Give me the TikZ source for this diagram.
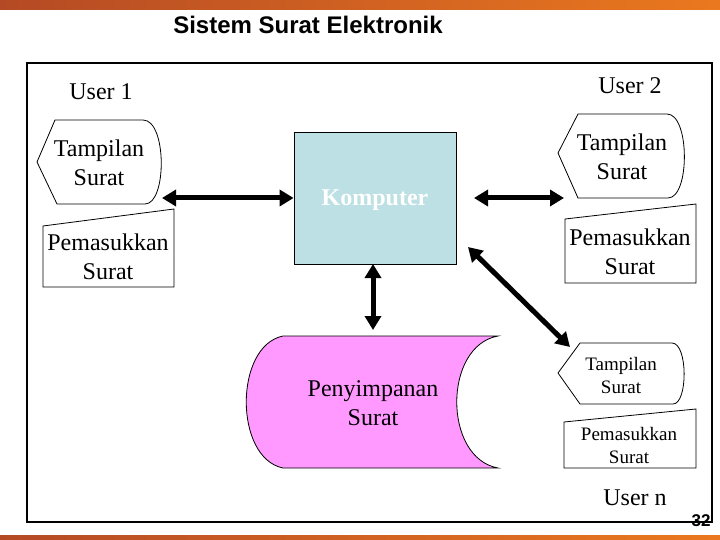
\documentclass[tikz,border=0pt]{standalone}
\usepackage{fontspec}
\setmainfont{Liberation Serif}
\setsansfont{Liberation Sans}
\usetikzlibrary{arrows.meta}
\definecolor{kompblue}{RGB}{189,224,228}
\definecolor{simpanpink}{RGB}{255,153,255}
\definecolor{bardark}{RGB}{150,48,40}
\definecolor{barorange}{RGB}{240,125,30}
\definecolor{barlight}{RGB}{245,200,150}
\pgfdeclarehorizontalshading{barshade}{100bp}{color(0bp)=(bardark); color(30bp)=(bardark!60!barorange); color(80bp)=(barorange); color(100bp)=(barlight)}

\begin{document}
\begin{tikzpicture}[x=1pt, y=-1pt,
    shapeline/.style={draw, line width=0.8pt},
    bigtext/.style={font=\fontsize{24}{29}\selectfont, align=center},
    smalltext/.style={font=\fontsize{19}{23}\selectfont, align=center},
    biarrow/.style={{Triangle[length=14pt,width=16pt]}-{Triangle[length=14pt,width=16pt]}, line width=5pt}]
    \useasboundingbox (0,0) rectangle (720,540);

    % bars and frame
    \fill[shading=barshade] (0,0) rectangle (720,10);
    \fill[shading=barshade] (0,535) rectangle (720,540);
    \draw[line width=1.5pt] (27,63) rectangle (712,522);
    \node[font=\fontsize{24}{27}\selectfont\sffamily\bfseries] (title) at (308,25) {Sistem Surat Elektronik};

    % user 1
    \node[bigtext] (user1) at (101,92) {User 1};
    \draw[shapeline] (37,162) -- (55,120) -- (143,120) .. controls (167,120) and (167,204) .. (145,204) -- (57,204) -- cycle;
    \node[bigtext] (tampil1) at (99,163) {Tampilan\\Surat};
    \draw[shapeline] (43,226) -- (174,209) -- (174,287) -- (43,287) -- cycle;
    \node[bigtext] (masuk1) at (108,257) {Pemasukkan\\Surat};

    % user 2
    \node[bigtext] (user2) at (630,86) {User 2};
    \draw[shapeline] (558,153) -- (578,114) -- (667,114) .. controls (690,114) and (690,198) .. (668,198) -- (578,198) -- cycle;
    \node[bigtext] (tampil2) at (622,157) {Tampilan\\Surat};
    \draw[shapeline] (565,219) -- (696,204) -- (696,283) -- (565,283) -- cycle;
    \node[bigtext] (masuk2) at (630,252) {Pemasukkan\\Surat};

    % user n
    \draw[shapeline] (558,373) -- (580,343) -- (672,343) .. controls (688,343) and (688,404) .. (673,404) -- (580,404) -- cycle;
    \node[smalltext] (tampiln) at (621,375) {Tampilan\\Surat};
    \draw[shapeline] (564,422) -- (696,409) -- (696,468) -- (564,468) -- cycle;
    \node[smalltext] (masukn) at (629,445) {Pemasukkan\\Surat};
    \node[bigtext] (usern) at (635,498) {User n};

    % komputer and storage
    \node[shapeline, fill=kompblue, minimum width=162pt, minimum height=132pt] (komp) at (375,198) {};
    \node[bigtext, text=white, font=\fontsize{24}{29}\selectfont\bfseries] (komptext) at (375,200) {Komputer};
    \draw[shapeline, fill=simpanpink] (283,336) -- (498,336) .. controls (443,346) and (443,458) .. (498,468)
        -- (283,468) .. controls (234,458) and (234,346) .. (283,336) -- cycle;
    \node[bigtext] (simpan) at (373,403) {Penyimpanan\\Surat};

    % connectors
    \coordinate (t1tip) at (162,198);
    \coordinate (kr) at (474,198);
    \coordinate (t2tip) at (564,198);
    \coordinate (kd) at (373,264);
    \coordinate (su) at (373,330);
    \coordinate (kdiag) at (468,247);
    \coordinate (tntip) at (570,347);
    \draw[biarrow] (t1tip) -- (komp.west);
    \draw[biarrow] (kr) -- (t2tip);
    \draw[biarrow] (kd) -- (su);
    \draw[biarrow] (kdiag) -- (tntip);

    \node[font=\fontsize{17}{19}\selectfont\sffamily\bfseries] (halaman) at (701,521) {32};
\end{tikzpicture}
\end{document}
